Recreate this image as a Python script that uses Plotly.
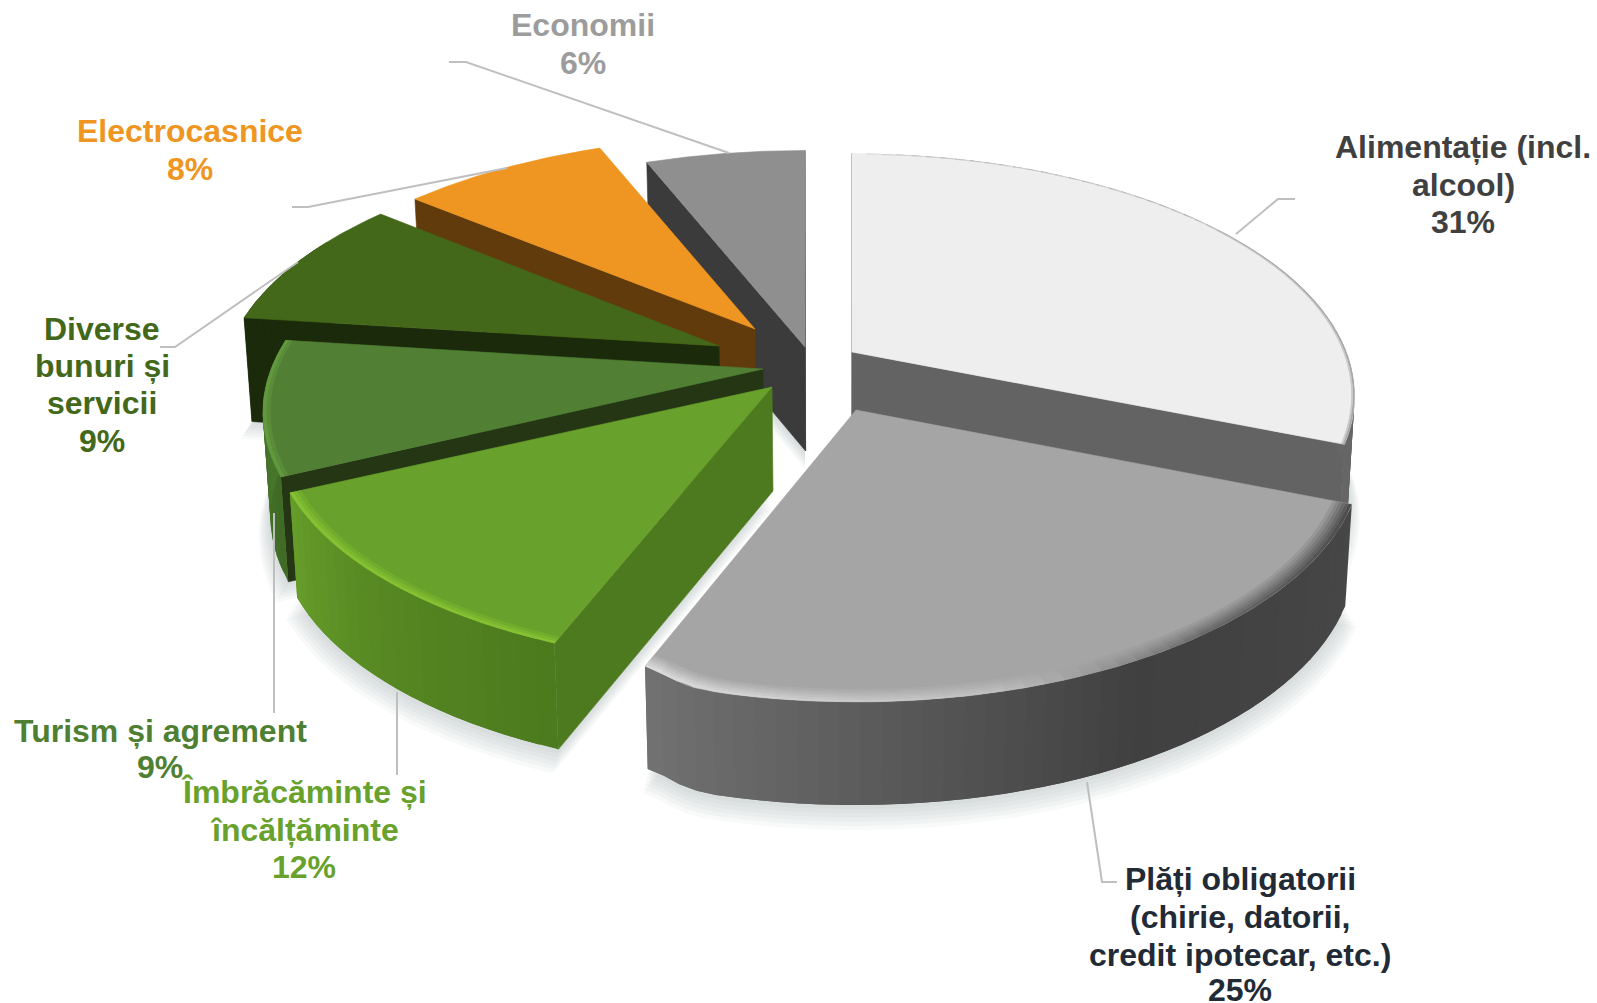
import math
import plotly.graph_objects as go

# ---- data ----
categories = ["Alimentație (incl. alcool)", "Plăți obligatorii (chirie, datorii, credit ipotecar, etc.)",
              "Îmbrăcăminte și încălțăminte", "Turism și agrement", "Diverse bunuri și servicii",
              "Electrocasnice", "Economii"]
values = [31, 25, 12, 9, 9, 8, 6]
label_lines = [["Alimentație (incl.", "alcool)", "31%"],
               ["Plăți obligatorii", "(chirie, datorii,", "credit ipotecar, etc.)", "25%"],
               ["Îmbrăcăminte și", "încălțăminte", "12%"],
               ["Turism și agrement", "9%"],
               ["Diverse", "bunuri și", "servicii", "9%"],
               ["Electrocasnice", "8%"],
               ["Economii", "6%"]]

# ---- look of the projected 3D pie (pixel space) ----
W, H = 1597, 1003
A, B, K = 492.0, 236.6, 0.18
DEPTH = 104.0
CXV, SHRINK = 850.0, 0.987
apex = [(852, 352), (856, 410), (772, 387), (763, 369), (719, 346), (755, 329), (805, 347)]
rx = [1.005, 1.012, 1.0, 1.0, 0.995, 1.0, 1.02]
ry = [0.99, 1.012, 0.97, 0.99, 0.975, 0.96, 0.98]
dz = [1.0, 0.97, 1.0, 1.0, 1.0, 1.0, 1.0]
corner_end = [0.0, 0.035, 0.0, 0.0, 0.0, 0.0, 0.0]
CORNER_W = math.radians(4.0)
top_col = ["#eeeeee", "#a5a5a5", "#68a12b", "#518035", "#44681a", "#ef9521", "#8f8f8f"]
rad_col = ["#636363", "#444444", "#4e7a1f", "#243614", "#1b2a0a", "#623b0c", "#3b3b3b"]
wall_stops = [[(0, "#666666"), (1, "#666666")],
              [(0, "#474747"), (.45, "#404040"), (1, "#727272")],
              [(0, "#4c7a1e"), (.5, "#568722"), (1, "#669d2a")],
              [(0, "#3f6b25"), (1, "#4a7a2e")],
              [(0, "#1b2a0a"), (1, "#1b2a0a")],
              [(0, "#623b0c"), (1, "#623b0c")],
              [(0, "#3b3b3b"), (1, "#3b3b3b")]]
rim_stops = [[(0, "#d8d8d8"), (.1, "#a0a0a0"), (1, "#a8a8a8")],
             [(0, "#4a4a4a"), (.35, "#6a6a6a"), (.6, "#bdbdbd"), (1, "#dcdcdc")],
             [(0, "#85c132"), (1, "#85c132")],
             [(0, "#62993f"), (1, "#62993f")],
             None, None, None]
rim_bands = [(1.0, .997, .994),
             (1.0, .994, .988, .982, .976, .970, .964),
             (1.0, .993, .986, .979),
             (1.0, .993, .986),
             None, None, None]
txt_col = ["#404040", "#222a35", "#68a12b", "#4e7f32", "#43681a", "#ef9521", "#9c9c9c"]
txt_x = [1463, 1240, 304, 160, 102, 190, 583]
txt_y = [[147, 185, 222], [879, 917, 955, 990], [792, 830, 867], [731, 767],
         [329, 366, 403, 441], [131, 169], [25, 63]]
leaders = [[(1236, 234), (1278, 199), (1295, 199)],
           [(1087, 782), (1102, 882), (1117, 882)],
           [(397, 692), (397, 775)],
           [(274, 513), (274, 713)],
           [(298, 262), (175, 347), (160, 347)],
           [(507, 168), (308, 207), (292, 207)],
           [(729, 153), (466, 62), (449, 62)]]


def hex2rgb(c):
    return tuple(int(c[i:i + 2], 16) for i in (1, 3, 5))


def mix(c1, c2, t):
    a, b = hex2rgb(c1), hex2rgb(c2)
    return "#%02x%02x%02x" % tuple(round(a[i] + (b[i] - a[i]) * t) for i in range(3))


def ramp(stops, t):
    for (t0, c0), (t1, c1) in zip(stops, stops[1:]):
        if t <= t1:
            return mix(c0, c1, (t - t0) / (t1 - t0) if t1 > t0 else 0)
    return stops[-1][1]


fig = go.Figure()

# slice angles come from the values
total = sum(values)
starts, ends = [], []
acc = 0.0
for v in values:
    starts.append(acc / total * 2 * math.pi)
    acc += v
    ends.append(acc / total * 2 * math.pi)


def top_pt(i, th, r=1.0):
    r = r * (1 - corner_end[i] * math.exp(-((th - ends[i]) / CORNER_W) ** 2))
    s = 1 / (1 + K * r * math.cos(th))
    return (apex[i][0] + A * rx[i] * r * math.sin(th) * s,
            apex[i][1] - B * ry[i] * r * math.cos(th) * s)


def depth(i, th, r=1.0):
    s = 1 / (1 + K * r * math.cos(th))
    return DEPTH * dz[i] * (1 + .1 * (s - 1))


def bot_pt(i, th, r=1.0):
    x, y = top_pt(i, th, r)
    return CXV + (x - CXV) * SHRINK, y + depth(i, th, r)


def poly(points, color, lw=0.6):
    xs = [p[0] for p in points] + [points[0][0]]
    ys = [p[1] for p in points] + [points[0][1]]
    return go.Scatter(x=xs, y=ys, mode="lines", fill="toself", fillcolor=color,
                      line=dict(color=color, width=lw), hoverinfo="skip", showlegend=False)


def arc(t0, t1, n):
    return [t0 + (t1 - t0) * j / n for j in range(n + 1)]


# soft ground shadows
for layer in range(6, 0, -1):
    for i in range(len(values)):
        ths = arc(starts[i], ends[i], 50)
        base = (apex[i][0], apex[i][1] + DEPTH)
        pts = [bot_pt(i, t) for t in ths] + [base]
        f = 1 + .004 * layer
        pts = [(base[0] + (x - base[0]) * f, base[1] + (y - base[1]) * f + 3.0 * layer) for x, y in pts]
        fig.add_trace(go.Scatter(x=[p[0] for p in pts] + [pts[0][0]], y=[p[1] for p in pts] + [pts[0][1]],
                                 mode="lines", fill="toself", fillcolor="rgba(120,130,130,0.05)",
                                 line=dict(width=0), hoverinfo="skip", showlegend=False))

# painter's order: back to front
for i in [0, 6, 5, 4, 3, 2, 1]:
    t0, t1 = starts[i], ends[i]
    for edge, normal in ((t0, t0 - math.pi / 2), (t1, t1 + math.pi / 2)):
        if math.cos(normal) < 0.05:
            x0, y0 = apex[i]
            xb = CXV + (x0 - CXV) * SHRINK
            fig.add_trace(poly([(x0, y0), top_pt(i, edge), bot_pt(i, edge), (xb, y0 + DEPTH * dz[i])], rad_col[i]))
    n = max(4, int((t1 - t0) / math.radians(2.0)))
    ths = arc(t0, t1, n)
    for j in range(n):
        a0, a1 = ths[j], ths[min(j + 2, n)]   # each strip runs under the next one, so no seams show
        if math.cos(ths[j]) > 0.45 and math.cos(ths[j + 1]) > 0.45:
            continue
        col = ramp(wall_stops[i], (j + .5) / n)
        fig.add_trace(poly([top_pt(i, a0), top_pt(i, ths[j + 1]), top_pt(i, a1),
                            bot_pt(i, a1), bot_pt(i, ths[j + 1]), bot_pt(i, a0)], col, lw=0))
    ths2 = arc(t0, t1, 90)
    fig.add_trace(poly([apex[i]] + [top_pt(i, t) for t in ths2], top_col[i]))
    if rim_bands[i]:
        bands = rim_bands[i]
        nb = len(bands) - 1
        for j in range(n):
            a0, a1 = ths[j], ths[min(j + 2, n)]
            rim = ramp(rim_stops[i], (j + .5) / n)
            for b in range(nb):
                col = mix(rim, top_col[i], b / nb)
                fig.add_trace(poly([top_pt(i, a0, bands[b]), top_pt(i, a1, bands[b]),
                                    top_pt(i, a1, bands[b + 1]), top_pt(i, a0, bands[b + 1])], col, lw=0))

# leader lines
for pts in leaders:
    fig.add_trace(go.Scatter(x=[p[0] for p in pts], y=[p[1] for p in pts], mode="lines",
                             line=dict(color="#bfbfbf", width=2), hoverinfo="skip", showlegend=False))

# labels
for i, lines in enumerate(label_lines):
    for ln, y in zip(lines, txt_y[i]):
        fig.add_annotation(x=txt_x[i], y=y, text="<b>" + ln + "</b>", showarrow=False,
                           xanchor="center", yanchor="middle",
                           font=dict(family="Liberation Sans", size=32, color=txt_col[i]))

fig.update_xaxes(range=[0, W], visible=False, fixedrange=True)
fig.update_yaxes(range=[H, 0], visible=False, fixedrange=True)
fig.update_layout(width=W, height=H, margin=dict(l=0, r=0, t=0, b=0),
                  paper_bgcolor="white", plot_bgcolor="white", showlegend=False)
fig.write_html("out.html", config={"displayModeBar": False},
               post_script="document.body.style.margin='0';document.body.style.overflow='hidden';")
